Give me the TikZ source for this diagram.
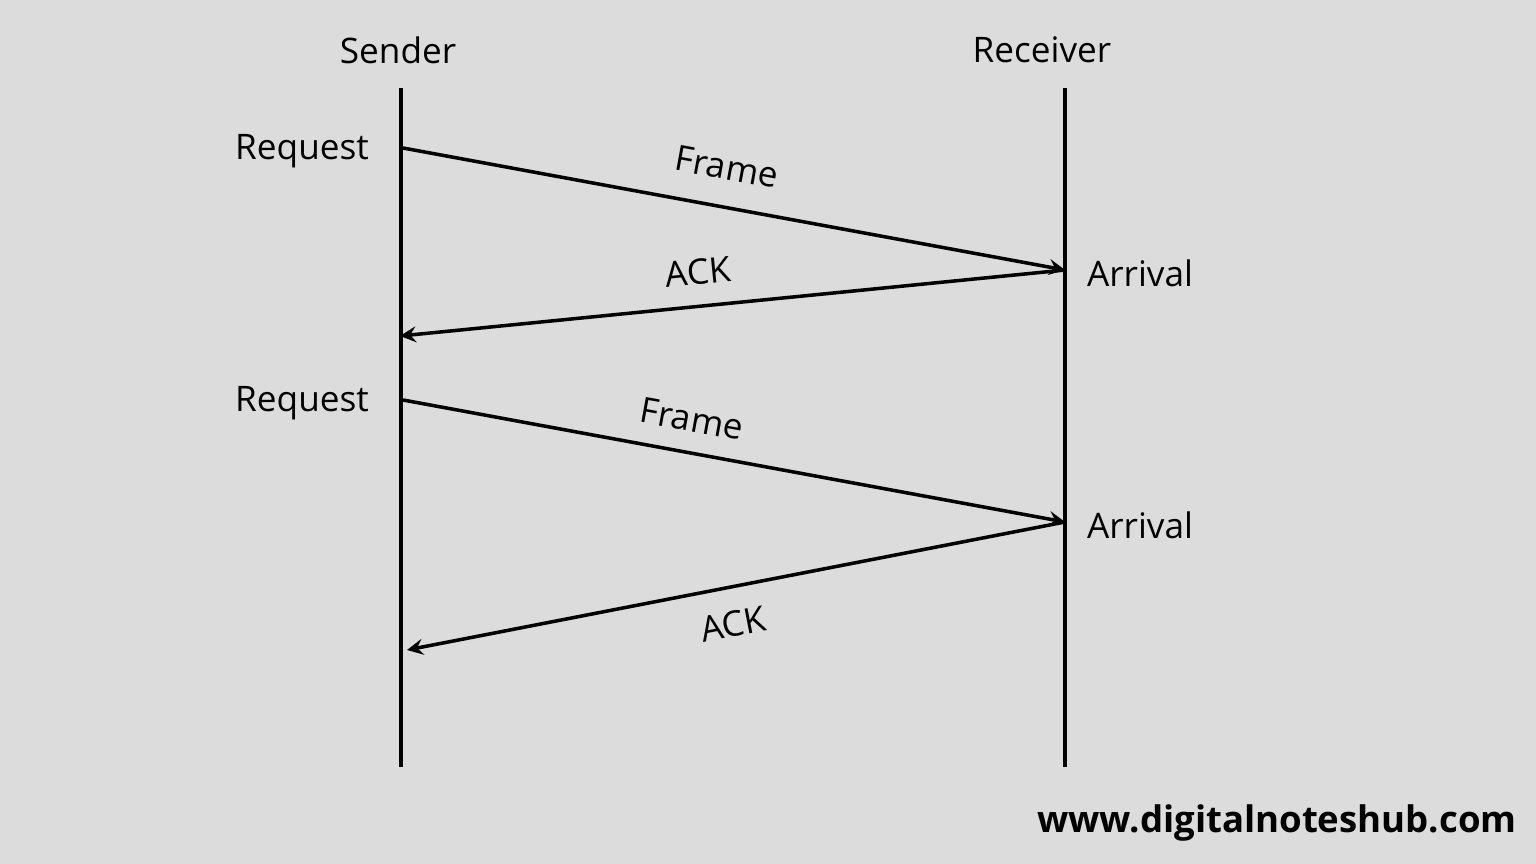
\documentclass[tikz,border=0pt]{standalone}
\usepackage{fontspec}
\setmainfont{Open Sans}
\definecolor{bg}{RGB}{220,220,220}
\begin{document}
\begin{tikzpicture}[x=0.01cm, y=-0.01cm, font=\fontsize{10}{12}\selectfont,
	line/.style={line width=1pt},
	msg/.style={line width=1pt, ->, >=stealth}]
	%background
	\useasboundingbox (0,0) rectangle (1536,864);
	\fill[bg] (0,0) rectangle (1536,864);
	%lifelines
	\node (sender) at (398,50) {Sender};
	\node (receiver) at (1042,50) {Receiver};
	\coordinate (s top) at (401,88);
	\coordinate (s bot) at (401,767);
	\coordinate (r top) at (1065,88);
	\coordinate (r bot) at (1065,767);
	\draw[line] (s top) -- (s bot);
	\draw[line] (r top) -- (r bot);
	%events
	\coordinate (req1) at (403,148);
	\coordinate (arr1) at (1065,270);
	\coordinate (ack1) at (400,336);
	\coordinate (req2) at (403,400);
	\coordinate (arr2) at (1065,522);
	\coordinate (ack2) at (407,650);
	\node (req1 t) at (302,151) {Request};
	\node (req2 t) at (302,403) {Request};
	\node (arr1 t) at (1140,273) {Arrival};
	\node (arr2 t) at (1140,525) {Arrival};
	%messages
	\draw[msg] (req1) -- (arr1);
	\draw[msg] (arr1) -- (ack1);
	\draw[msg] (req2) -- (arr2);
	\draw[msg] (arr2) -- (ack2);
	\node[rotate=-10.4] (frame1) at (727,167) {Frame};
	\node[rotate=5.7] (ackl1) at (698,272) {ACK};
	\node[rotate=-10.4] (frame2) at (692,419) {Frame};
	\node[rotate=11] (ackl2) at (733,624) {ACK};
	%site
	\node[font=\fontsize{10.4}{13}\selectfont\bfseries] (site) at (1277,823) {www.digitalnoteshub.com};
\end{tikzpicture}
\end{document}
